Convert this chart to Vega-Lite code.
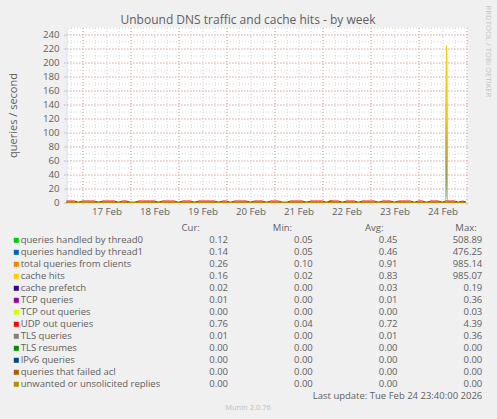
{
  "$schema": "https://vega.github.io/schema/vega-lite/v6.json",
  "width": 401,
  "height": 175,
  "autosize": {"type": "none"},
  "padding": {"left": 66.5, "top": 27.5, "right": 29.5, "bottom": 216.5},
  "background": "#f0f0f0",
  "config": {
    "font": "Open Sans",
    "view": {"fill": "#ffffff", "stroke": null},
    "text": {"font": "Open Sans"}
  },
  "title": {
    "text": "Unbound DNS traffic and cache hits - by week",
    "anchor": "middle",
    "dx": -19,
    "dy": 34,
    "offset": 3.4,
    "baseline": "alphabetic",
    "fontSize": 12,
    "fontWeight": "normal",
    "color": "#606060"
  },
  "datasets": {
    "ts": [
      {"t": "2026-02-16T16:00", "thread0": 0.17, "thread1": 0.16, "total": 0.33, "hits": 0.26, "udp": 2.14},
      {"t": "2026-02-16T18:00", "thread0": 0.15, "thread1": 0.16, "total": 0.31, "hits": 0.24, "udp": 2.14},
      {"t": "2026-02-16T20:00", "thread0": 0.16, "thread1": 0.15, "total": 0.31, "hits": 0.25, "udp": 2.14},
      {"t": "2026-02-16T22:00", "thread0": 0.14, "thread1": 0.15, "total": 0.29, "hits": 0.22, "udp": 0.20},
      {"t": "2026-02-17T00:00", "thread0": 0.13, "thread1": 0.14, "total": 0.27, "hits": 0.21, "udp": 2.14},
      {"t": "2026-02-17T02:00", "thread0": 0.14, "thread1": 0.13, "total": 0.27, "hits": 0.20, "udp": 2.14},
      {"t": "2026-02-17T04:00", "thread0": 0.13, "thread1": 0.14, "total": 0.27, "hits": 0.21, "udp": 2.14},
      {"t": "2026-02-17T06:00", "thread0": 0.16, "thread1": 0.17, "total": 0.33, "hits": 0.26, "udp": 2.14},
      {"t": "2026-02-17T08:00", "thread0": 0.19, "thread1": 0.18, "total": 0.37, "hits": 0.29, "udp": 0.20},
      {"t": "2026-02-17T10:00", "thread0": 0.20, "thread1": 0.19, "total": 0.39, "hits": 0.31, "udp": 2.14},
      {"t": "2026-02-17T12:00", "thread0": 0.21, "thread1": 0.20, "total": 0.41, "hits": 0.33, "udp": 2.14},
      {"t": "2026-02-17T14:00", "thread0": 0.20, "thread1": 0.21, "total": 0.41, "hits": 0.32, "udp": 2.14},
      {"t": "2026-02-17T16:00", "thread0": 0.18, "thread1": 0.19, "total": 0.37, "hits": 0.29, "udp": 2.14},
      {"t": "2026-02-17T18:00", "thread0": 0.17, "thread1": 0.18, "total": 0.35, "hits": 0.28, "udp": 0.10},
      {"t": "2026-02-17T20:00", "thread0": 0.16, "thread1": 0.17, "total": 0.33, "hits": 0.26, "udp": 2.14},
      {"t": "2026-02-17T22:00", "thread0": 0.15, "thread1": 0.15, "total": 0.30, "hits": 0.23, "udp": 2.14},
      {"t": "2026-02-18T00:00", "thread0": 0.14, "thread1": 0.13, "total": 0.27, "hits": 0.21, "udp": 0.20},
      {"t": "2026-02-18T02:00", "thread0": 0.13, "thread1": 0.13, "total": 0.26, "hits": 0.20, "udp": 0.10},
      {"t": "2026-02-18T04:00", "thread0": 0.13, "thread1": 0.14, "total": 0.27, "hits": 0.20, "udp": 2.14},
      {"t": "2026-02-18T06:00", "thread0": 0.16, "thread1": 0.17, "total": 0.33, "hits": 0.26, "udp": 2.14},
      {"t": "2026-02-18T08:00", "thread0": 0.19, "thread1": 0.19, "total": 0.38, "hits": 0.30, "udp": 2.14},
      {"t": "2026-02-18T10:00", "thread0": 0.21, "thread1": 0.21, "total": 0.42, "hits": 0.33, "udp": 2.14},
      {"t": "2026-02-18T12:00", "thread0": 0.20, "thread1": 0.21, "total": 0.41, "hits": 0.32, "udp": 2.14},
      {"t": "2026-02-18T14:00", "thread0": 0.19, "thread1": 0.19, "total": 0.38, "hits": 0.30, "udp": 0.20},
      {"t": "2026-02-18T16:00", "thread0": 0.18, "thread1": 0.18, "total": 0.36, "hits": 0.28, "udp": 2.14},
      {"t": "2026-02-18T18:00", "thread0": 0.17, "thread1": 0.17, "total": 0.34, "hits": 0.27, "udp": 2.14},
      {"t": "2026-02-18T20:00", "thread0": 0.15, "thread1": 0.16, "total": 0.31, "hits": 0.24, "udp": 2.14},
      {"t": "2026-02-18T22:00", "thread0": 0.14, "thread1": 0.14, "total": 0.28, "hits": 0.22, "udp": 2.14},
      {"t": "2026-02-19T00:00", "thread0": 0.13, "thread1": 0.14, "total": 0.27, "hits": 0.21, "udp": 0.10},
      {"t": "2026-02-19T02:00", "thread0": 0.13, "thread1": 0.13, "total": 0.26, "hits": 0.20, "udp": 2.14},
      {"t": "2026-02-19T04:00", "thread0": 0.13, "thread1": 0.13, "total": 0.26, "hits": 0.20, "udp": 2.14},
      {"t": "2026-02-19T06:00", "thread0": 0.16, "thread1": 0.16, "total": 0.32, "hits": 0.25, "udp": 2.14},
      {"t": "2026-02-19T08:00", "thread0": 0.19, "thread1": 0.20, "total": 0.39, "hits": 0.31, "udp": 0.20},
      {"t": "2026-02-19T10:00", "thread0": 0.21, "thread1": 0.20, "total": 0.41, "hits": 0.33, "udp": 2.14},
      {"t": "2026-02-19T12:00", "thread0": 0.20, "thread1": 0.21, "total": 0.41, "hits": 0.32, "udp": 2.14},
      {"t": "2026-02-19T14:00", "thread0": 0.19, "thread1": 0.19, "total": 0.38, "hits": 0.30, "udp": 2.14},
      {"t": "2026-02-19T16:00", "thread0": 0.18, "thread1": 0.17, "total": 0.35, "hits": 0.28, "udp": 2.14},
      {"t": "2026-02-19T18:00", "thread0": 0.17, "thread1": 0.16, "total": 0.33, "hits": 0.26, "udp": 2.14},
      {"t": "2026-02-19T20:00", "thread0": 0.15, "thread1": 0.15, "total": 0.30, "hits": 0.24, "udp": 0.20},
      {"t": "2026-02-19T22:00", "thread0": 0.14, "thread1": 0.14, "total": 0.28, "hits": 0.22, "udp": 2.14},
      {"t": "2026-02-20T00:00", "thread0": 0.14, "thread1": 0.13, "total": 0.27, "hits": 0.21, "udp": 2.14},
      {"t": "2026-02-20T02:00", "thread0": 0.13, "thread1": 0.13, "total": 0.26, "hits": 0.20, "udp": 0.10},
      {"t": "2026-02-20T04:00", "thread0": 0.13, "thread1": 0.13, "total": 0.26, "hits": 0.20, "udp": 2.14},
      {"t": "2026-02-20T06:00", "thread0": 0.16, "thread1": 0.16, "total": 0.32, "hits": 0.25, "udp": 2.14},
      {"t": "2026-02-20T08:00", "thread0": 0.19, "thread1": 0.19, "total": 0.38, "hits": 0.30, "udp": 2.14},
      {"t": "2026-02-20T10:00", "thread0": 0.20, "thread1": 0.21, "total": 0.41, "hits": 0.32, "udp": 2.14},
      {"t": "2026-02-20T12:00", "thread0": 0.20, "thread1": 0.20, "total": 0.40, "hits": 0.32, "udp": 0.20},
      {"t": "2026-02-20T14:00", "thread0": 0.19, "thread1": 0.19, "total": 0.38, "hits": 0.30, "udp": 2.14},
      {"t": "2026-02-20T16:00", "thread0": 0.18, "thread1": 0.17, "total": 0.35, "hits": 0.28, "udp": 2.14},
      {"t": "2026-02-20T18:00", "thread0": 0.17, "thread1": 0.16, "total": 0.33, "hits": 0.26, "udp": 2.14},
      {"t": "2026-02-20T20:00", "thread0": 0.15, "thread1": 0.16, "total": 0.31, "hits": 0.24, "udp": 0.10},
      {"t": "2026-02-20T22:00", "thread0": 0.14, "thread1": 0.14, "total": 0.28, "hits": 0.22, "udp": 2.14},
      {"t": "2026-02-21T00:00", "thread0": 0.14, "thread1": 0.13, "total": 0.27, "hits": 0.21, "udp": 2.14},
      {"t": "2026-02-21T02:00", "thread0": 0.13, "thread1": 0.13, "total": 0.26, "hits": 0.20, "udp": 2.14},
      {"t": "2026-02-21T04:00", "thread0": 0.13, "thread1": 0.13, "total": 0.26, "hits": 0.20, "udp": 0.20},
      {"t": "2026-02-21T06:00", "thread0": 0.16, "thread1": 0.16, "total": 0.32, "hits": 0.25, "udp": 0.10},
      {"t": "2026-02-21T08:00", "thread0": 0.19, "thread1": 0.19, "total": 0.38, "hits": 0.30, "udp": 2.14},
      {"t": "2026-02-21T10:00", "thread0": 0.20, "thread1": 0.21, "total": 0.41, "hits": 0.32, "udp": 2.14},
      {"t": "2026-02-21T12:00", "thread0": 0.20, "thread1": 0.20, "total": 0.40, "hits": 0.32, "udp": 2.14},
      {"t": "2026-02-21T14:00", "thread0": 0.19, "thread1": 0.19, "total": 0.38, "hits": 0.30, "udp": 2.14},
      {"t": "2026-02-21T16:00", "thread0": 0.18, "thread1": 0.17, "total": 0.35, "hits": 0.28, "udp": 0.20},
      {"t": "2026-02-21T18:00", "thread0": 0.17, "thread1": 0.16, "total": 0.33, "hits": 0.26, "udp": 2.14},
      {"t": "2026-02-21T20:00", "thread0": 0.15, "thread1": 0.15, "total": 0.30, "hits": 0.24, "udp": 2.14},
      {"t": "2026-02-21T22:00", "thread0": 0.14, "thread1": 0.14, "total": 0.28, "hits": 0.22, "udp": 2.14},
      {"t": "2026-02-22T00:00", "thread0": 0.14, "thread1": 0.13, "total": 0.27, "hits": 0.21, "udp": 2.14},
      {"t": "2026-02-22T02:00", "thread0": 0.13, "thread1": 0.13, "total": 0.26, "hits": 0.20, "udp": 0.10},
      {"t": "2026-02-22T04:00", "thread0": 1.60, "thread1": 1.50, "total": 3.10, "hits": 2.20, "udp": 2.14},
      {"t": "2026-02-22T06:00", "thread0": 0.16, "thread1": 0.16, "total": 0.32, "hits": 0.25, "udp": 2.14},
      {"t": "2026-02-22T08:00", "thread0": 0.19, "thread1": 0.19, "total": 0.38, "hits": 0.30, "udp": 2.14},
      {"t": "2026-02-22T10:00", "thread0": 0.21, "thread1": 0.20, "total": 0.41, "hits": 0.33, "udp": 0.20},
      {"t": "2026-02-22T12:00", "thread0": 0.20, "thread1": 0.20, "total": 0.40, "hits": 0.32, "udp": 2.14},
      {"t": "2026-02-22T14:00", "thread0": 0.19, "thread1": 0.19, "total": 0.38, "hits": 0.30, "udp": 2.14},
      {"t": "2026-02-22T16:00", "thread0": 0.18, "thread1": 0.17, "total": 0.35, "hits": 0.28, "udp": 2.14},
      {"t": "2026-02-22T18:00", "thread0": 0.17, "thread1": 0.16, "total": 0.33, "hits": 0.26, "udp": 0.10},
      {"t": "2026-02-22T20:00", "thread0": 0.15, "thread1": 0.15, "total": 0.30, "hits": 0.24, "udp": 2.14},
      {"t": "2026-02-22T22:00", "thread0": 0.14, "thread1": 0.14, "total": 0.28, "hits": 0.22, "udp": 2.14},
      {"t": "2026-02-23T00:00", "thread0": 0.14, "thread1": 0.13, "total": 0.27, "hits": 0.21, "udp": 2.14},
      {"t": "2026-02-23T02:00", "thread0": 0.13, "thread1": 0.13, "total": 0.26, "hits": 0.20, "udp": 2.14},
      {"t": "2026-02-23T04:00", "thread0": 0.13, "thread1": 0.13, "total": 0.26, "hits": 0.20, "udp": 0.20},
      {"t": "2026-02-23T06:00", "thread0": 0.16, "thread1": 0.16, "total": 0.32, "hits": 0.25, "udp": 2.14},
      {"t": "2026-02-23T08:00", "thread0": 0.19, "thread1": 0.19, "total": 0.38, "hits": 0.30, "udp": 2.14},
      {"t": "2026-02-23T10:00", "thread0": 0.21, "thread1": 0.20, "total": 0.41, "hits": 0.33, "udp": 2.14},
      {"t": "2026-02-23T12:00", "thread0": 0.20, "thread1": 0.20, "total": 0.40, "hits": 0.32, "udp": 0.10},
      {"t": "2026-02-23T14:00", "thread0": 0.19, "thread1": 0.19, "total": 0.38, "hits": 0.30, "udp": 2.14},
      {"t": "2026-02-23T16:00", "thread0": 0.18, "thread1": 0.17, "total": 0.35, "hits": 0.28, "udp": 2.14},
      {"t": "2026-02-23T18:00", "thread0": 0.17, "thread1": 0.16, "total": 0.33, "hits": 0.26, "udp": 2.14},
      {"t": "2026-02-23T20:00", "thread0": 0.15, "thread1": 0.15, "total": 0.30, "hits": 0.24, "udp": 2.14},
      {"t": "2026-02-23T22:00", "thread0": 0.14, "thread1": 0.14, "total": 0.28, "hits": 0.22, "udp": 0.20},
      {"t": "2026-02-24T00:00", "thread0": 0.14, "thread1": 0.13, "total": 0.27, "hits": 0.21, "udp": 2.14},
      {"t": "2026-02-24T02:00", "thread0": 0.13, "thread1": 0.13, "total": 0.26, "hits": 0.20, "udp": 2.14},
      {"t": "2026-02-24T04:00", "thread0": 0.13, "thread1": 0.13, "total": 0.26, "hits": 0.20, "udp": 0.10},
      {"t": "2026-02-24T06:00", "thread0": 0.16, "thread1": 0.16, "total": 0.32, "hits": 0.25, "udp": 2.14},
      {"t": "2026-02-24T08:00", "thread0": 0.19, "thread1": 0.19, "total": 0.38, "hits": 0.30, "udp": 2.14},
      {"t": "2026-02-24T10:00", "thread0": 0.21, "thread1": 0.20, "total": 0.41, "hits": 0.33, "udp": 2.14},
      {"t": "2026-02-24T12:00", "thread0": 0.20, "thread1": 0.20, "total": 0.40, "hits": 0.32, "udp": 0.20},
      {"t": "2026-02-24T13:30", "thread0": 0.19, "thread1": 0.20, "total": 0.39, "hits": 0.31, "udp": 2.14},
      {"t": "2026-02-24T14:00", "thread0": 115.0, "thread1": 109.0, "total": 224.0, "hits": 223.5, "udp": 2.14},
      {"t": "2026-02-24T14:30", "thread0": 0.20, "thread1": 0.19, "total": 0.39, "hits": 0.31, "udp": 2.14},
      {"t": "2026-02-24T16:00", "thread0": 0.18, "thread1": 0.17, "total": 0.35, "hits": 0.28, "udp": 2.14},
      {"t": "2026-02-24T18:00", "thread0": 0.17, "thread1": 0.16, "total": 0.33, "hits": 0.26, "udp": 2.14},
      {"t": "2026-02-24T20:00", "thread0": 0.15, "thread1": 0.15, "total": 0.30, "hits": 0.24, "udp": 0.20},
      {"t": "2026-02-24T22:00", "thread0": 0.14, "thread1": 0.14, "total": 0.28, "hits": 0.22, "udp": 2.14},
      {"t": "2026-02-24T23:40", "thread0": 0.12, "thread1": 0.14, "total": 0.26, "hits": 0.16, "udp": 0.76}
    ],
    "z1": [
      {"t": "2026-02-16T16:00", "s": "prefetch", "v": 0.03},
      {"t": "2026-02-24T23:40", "s": "prefetch", "v": 0.02},
      {"t": "2026-02-16T16:00", "s": "tcp", "v": 0.01},
      {"t": "2026-02-24T23:40", "s": "tcp", "v": 0.01},
      {"t": "2026-02-16T16:00", "s": "tcpout", "v": 0.0},
      {"t": "2026-02-24T23:40", "s": "tcpout", "v": 0.0}
    ],
    "z2": [
      {"t": "2026-02-16T16:00", "s": "tls", "v": 0.01},
      {"t": "2026-02-24T23:40", "s": "tls", "v": 0.01},
      {"t": "2026-02-16T16:00", "s": "tlsres", "v": 0.0},
      {"t": "2026-02-24T23:40", "s": "tlsres", "v": 0.0},
      {"t": "2026-02-16T16:00", "s": "ipv6", "v": 0.0},
      {"t": "2026-02-24T23:40", "s": "ipv6", "v": 0.0},
      {"t": "2026-02-16T16:00", "s": "acl", "v": 0.0},
      {"t": "2026-02-24T23:40", "s": "acl", "v": 0.0},
      {"t": "2026-02-16T16:00", "s": "unwanted", "v": 0.0},
      {"t": "2026-02-24T23:40", "s": "unwanted", "v": 0.0}
    ],
    "tbl": [
      {"name": "queries handled by thread0", "cur": 0.12, "min": 0.05, "avg": 0.45, "max": 508.89},
      {"name": "queries handled by thread1", "cur": 0.14, "min": 0.05, "avg": 0.46, "max": 476.25},
      {"name": "total queries from clients", "cur": 0.26, "min": 0.10, "avg": 0.91, "max": 985.14},
      {"name": "cache hits", "cur": 0.16, "min": 0.02, "avg": 0.83, "max": 985.07},
      {"name": "cache prefetch", "cur": 0.02, "min": 0.00, "avg": 0.03, "max": 0.19},
      {"name": "TCP queries", "cur": 0.01, "min": 0.00, "avg": 0.01, "max": 0.36},
      {"name": "TCP out queries", "cur": 0.00, "min": 0.00, "avg": 0.00, "max": 0.03},
      {"name": "UDP out queries", "cur": 0.76, "min": 0.04, "avg": 0.72, "max": 4.39},
      {"name": "TLS queries", "cur": 0.01, "min": 0.00, "avg": 0.01, "max": 0.36},
      {"name": "TLS resumes", "cur": 0.00, "min": 0.00, "avg": 0.00, "max": 0.00},
      {"name": "IPv6 queries", "cur": 0.00, "min": 0.00, "avg": 0.00, "max": 0.00},
      {"name": "queries that failed acl", "cur": 0.00, "min": 0.00, "avg": 0.00, "max": 0.00},
      {"name": "unwanted or unsolicited replies", "cur": 0.00, "min": 0.00, "avg": 0.00, "max": 0.00}
    ],
    "hdr": [{"h": "Cur:"}, {"h": "Min:"}, {"h": "Avg:"}, {"h": "Max:"}]
  },
  "resolve": {
    "scale": {"x": "independent", "y": "independent", "color": "independent", "strokeWidth": "independent"},
    "axis": {"x": "independent", "y": "independent"}
  },
  "layer": [
    {
      "data": {"name": "z1"},
      "mark": {"type": "line", "strokeWidth": 1},
      "encoding": {
        "x": {
          "field": "t", "type": "temporal",
          "scale": {"domain": [{"year": 2026, "month": "feb", "date": 16, "hours": 16}, {"year": 2026, "month": "feb", "date": 25, "hours": 0, "minutes": 30}]},
          "axis": {
            "orient": "bottom", "grid": true, "gridColor": "#d4d4d4", "gridDash": [1, 2],
            "values": [
              {"year": 2026, "month": "feb", "date": 16, "hours": 18},
              {"year": 2026, "month": "feb", "date": 17, "hours": 0}, {"year": 2026, "month": "feb", "date": 17, "hours": 6}, {"year": 2026, "month": "feb", "date": 17, "hours": 12}, {"year": 2026, "month": "feb", "date": 17, "hours": 18},
              {"year": 2026, "month": "feb", "date": 18, "hours": 0}, {"year": 2026, "month": "feb", "date": 18, "hours": 6}, {"year": 2026, "month": "feb", "date": 18, "hours": 12}, {"year": 2026, "month": "feb", "date": 18, "hours": 18},
              {"year": 2026, "month": "feb", "date": 19, "hours": 0}, {"year": 2026, "month": "feb", "date": 19, "hours": 6}, {"year": 2026, "month": "feb", "date": 19, "hours": 12}, {"year": 2026, "month": "feb", "date": 19, "hours": 18},
              {"year": 2026, "month": "feb", "date": 20, "hours": 0}, {"year": 2026, "month": "feb", "date": 20, "hours": 6}, {"year": 2026, "month": "feb", "date": 20, "hours": 12}, {"year": 2026, "month": "feb", "date": 20, "hours": 18},
              {"year": 2026, "month": "feb", "date": 21, "hours": 0}, {"year": 2026, "month": "feb", "date": 21, "hours": 6}, {"year": 2026, "month": "feb", "date": 21, "hours": 12}, {"year": 2026, "month": "feb", "date": 21, "hours": 18},
              {"year": 2026, "month": "feb", "date": 22, "hours": 0}, {"year": 2026, "month": "feb", "date": 22, "hours": 6}, {"year": 2026, "month": "feb", "date": 22, "hours": 12}, {"year": 2026, "month": "feb", "date": 22, "hours": 18},
              {"year": 2026, "month": "feb", "date": 23, "hours": 0}, {"year": 2026, "month": "feb", "date": 23, "hours": 6}, {"year": 2026, "month": "feb", "date": 23, "hours": 12}, {"year": 2026, "month": "feb", "date": 23, "hours": 18},
              {"year": 2026, "month": "feb", "date": 24, "hours": 0}, {"year": 2026, "month": "feb", "date": 24, "hours": 6}, {"year": 2026, "month": "feb", "date": 24, "hours": 12}, {"year": 2026, "month": "feb", "date": 24, "hours": 18},
              {"year": 2026, "month": "feb", "date": 25, "hours": 0}
            ],
            "labels": false, "ticks": false, "domain": false, "title": null
          }
        },
        "y": {
          "field": "v", "type": "quantitative",
          "scale": {"domain": [0, 250], "nice": false},
          "axis": {
            "orient": "right", "grid": true, "gridColor": "#d4d4d4", "gridDash": [1, 2],
            "values": [10, 20, 30, 40, 50, 60, 70, 80, 90, 100, 110, 120, 130, 140, 150, 160, 170, 180, 190, 200, 210, 220, 230, 240, 250],
            "labels": false, "ticks": false, "domain": false,
            "title": "RRDTOOL / TOBI OETIKER", "titleAngle": 90, "titleFontSize": 7.7, "titleFontWeight": "normal",
            "titleColor": "#c4c4c4", "titleX": 19.5, "titleY": 23.5, "titleAlign": "center", "titleBaseline": "middle"
          }
        },
        "color": {"field": "s", "type": "nominal", "scale": {"domain": ["prefetch", "tcp", "tcpout"], "range": ["#330099", "#990099", "#CCFF00"]}, "legend": null}
      }
    },
    {
      "data": {"name": "ts"},
      "transform": [{"fold": ["thread0", "thread1", "total", "hits", "udp"], "as": ["s", "v"]}],
      "mark": {"type": "line"},
      "encoding": {
        "x": {
          "field": "t", "type": "temporal",
          "scale": {"domain": [{"year": 2026, "month": "feb", "date": 16, "hours": 16}, {"year": 2026, "month": "feb", "date": 25, "hours": 0, "minutes": 30}]},
          "axis": {
            "orient": "bottom", "grid": true, "gridColor": "#eaa0a0", "gridDash": [1, 2],
            "values": [
              {"year": 2026, "month": "feb", "date": 17}, {"year": 2026, "month": "feb", "date": 18},
              {"year": 2026, "month": "feb", "date": 19}, {"year": 2026, "month": "feb", "date": 20},
              {"year": 2026, "month": "feb", "date": 21}, {"year": 2026, "month": "feb", "date": 22},
              {"year": 2026, "month": "feb", "date": 23}, {"year": 2026, "month": "feb", "date": 24},
              {"year": 2026, "month": "feb", "date": 25}
            ],
            "labelExpr": "date(datum.value) == 25 ? '' : timeFormat(datum.value, '%d %b')",
            "labelOffset": 24, "labelFlush": false, "labelOverlap": false, "labelBound": false,
            "labelFontSize": 9.7, "labelColor": "#606060", "labelPadding": 2,
            "tickSize": 2, "tickColor": "#c8c8c8", "domainColor": "#cfd6f8", "title": null
          }
        },
        "y": {
          "field": "v", "type": "quantitative",
          "scale": {"domain": [0, 250], "nice": false},
          "axis": {
            "orient": "left", "grid": true, "gridColor": "#eaa0a0", "gridDash": [1, 2],
            "values": [0, 20, 40, 60, 80, 100, 120, 140, 160, 180, 200, 220, 240],
            "labelFontSize": 9.7, "labelColor": "#606060", "labelPadding": 4.5,
            "tickSize": 3, "tickColor": "#c8c8c8", "domainColor": "#cfd6f8",
            "title": "queries / second", "titleFontSize": 11, "titleFontWeight": "normal", "titleColor": "#606060", "titlePadding": 24
          }
        },
        "color": {"field": "s", "type": "nominal", "scale": {"domain": ["thread0", "thread1", "total", "hits", "udp"], "range": ["#00CC00", "#0066B3", "#FF8000", "#FFCC00", "#FF0000"]}, "legend": null},
        "strokeWidth": {"field": "s", "type": "nominal", "scale": {"domain": ["thread0", "thread1", "total", "hits", "udp"], "range": [1, 1, 1, 1, 2]}, "legend": null}
      }
    },
    {
      "data": {"name": "z2"},
      "mark": {"type": "line", "strokeWidth": 1},
      "encoding": {
        "x": {
          "field": "t", "type": "temporal",
          "scale": {"domain": [{"year": 2026, "month": "feb", "date": 16, "hours": 16}, {"year": 2026, "month": "feb", "date": 25, "hours": 0, "minutes": 30}]},
          "axis": null
        },
        "y": {"field": "v", "type": "quantitative", "scale": {"domain": [0, 250], "nice": false}, "axis": null},
        "color": {"field": "s", "type": "nominal", "scale": {"domain": ["tls", "tlsres", "ipv6", "acl", "unwanted"], "range": ["#808080", "#008F00", "#00487D", "#B35A00", "#B38F00"]}, "legend": null}
      }
    },
    {
      "data": {"name": "tbl"},
      "mark": {"type": "square", "size": 25, "filled": true, "opacity": 1},
      "encoding": {
        "x": {"datum": "sq", "type": "nominal", "scale": {"type": "point", "domain": ["sq", "lbl"], "range": [-50.2, -45.8], "padding": 0}, "axis": null},
        "y": {
          "field": "name", "type": "nominal",
          "scale": {"type": "point", "padding": 0, "range": [200.8, 380.8], "domain": ["hdr", "queries handled by thread0", "queries handled by thread1", "total queries from clients", "cache hits", "cache prefetch", "TCP queries", "TCP out queries", "UDP out queries", "TLS queries", "TLS resumes", "IPv6 queries", "queries that failed acl", "unwanted or unsolicited replies", "upd", "ftr"]},
          "axis": null
        },
        "color": {
          "field": "name", "type": "nominal",
          "scale": {
            "domain": ["queries handled by thread0", "queries handled by thread1", "total queries from clients", "cache hits", "cache prefetch", "TCP queries", "TCP out queries", "UDP out queries", "TLS queries", "TLS resumes", "IPv6 queries", "queries that failed acl", "unwanted or unsolicited replies"],
            "range": ["#00CC00", "#0066B3", "#FF8000", "#FFCC00", "#330099", "#990099", "#CCFF00", "#FF0000", "#808080", "#008F00", "#00487D", "#B35A00", "#B38F00"]
          },
          "legend": null
        }
      }
    },
    {
      "data": {"name": "tbl"},
      "mark": {"type": "text", "align": "left", "baseline": "middle", "fontSize": 9.5, "color": "#606060"},
      "encoding": {
        "x": {"datum": "lbl", "type": "nominal", "scale": {"type": "point", "domain": ["sq", "lbl"], "range": [-50.2, -45.8], "padding": 0}, "axis": null},
        "y": {
          "field": "name", "type": "nominal",
          "scale": {"type": "point", "padding": 0, "range": [200.8, 380.8], "domain": ["hdr", "queries handled by thread0", "queries handled by thread1", "total queries from clients", "cache hits", "cache prefetch", "TCP queries", "TCP out queries", "UDP out queries", "TLS queries", "TLS resumes", "IPv6 queries", "queries that failed acl", "unwanted or unsolicited replies", "upd", "ftr"]},
          "axis": null
        },
        "text": {"field": "name"}
      }
    },
    {
      "data": {"name": "tbl"},
      "transform": [{"fold": ["cur", "min", "avg", "max"], "as": ["k", "v"]}],
      "mark": {"type": "text", "align": "right", "baseline": "middle", "fontSize": 9.5, "color": "#606060"},
      "encoding": {
        "x": {"field": "k", "type": "nominal", "scale": {"type": "point", "domain": ["cur", "min", "avg", "max"], "range": [161.5, 415.8], "padding": 0}, "axis": null},
        "y": {
          "field": "name", "type": "nominal",
          "scale": {"type": "point", "padding": 0, "range": [200.8, 380.8], "domain": ["hdr", "queries handled by thread0", "queries handled by thread1", "total queries from clients", "cache hits", "cache prefetch", "TCP queries", "TCP out queries", "UDP out queries", "TLS queries", "TLS resumes", "IPv6 queries", "queries that failed acl", "unwanted or unsolicited replies", "upd", "ftr"]},
          "axis": null
        },
        "text": {"field": "v", "type": "quantitative", "format": ".2f"}
      }
    },
    {
      "data": {"name": "hdr"},
      "mark": {"type": "text", "align": "center", "baseline": "middle", "fontSize": 9.5, "color": "#606060"},
      "encoding": {
        "x": {"field": "h", "type": "nominal", "scale": {"type": "point", "domain": ["Cur:", "Min:", "Avg:", "Max:"], "range": [124.2, 399.5], "padding": 0}, "axis": null},
        "y": {
          "datum": "hdr", "type": "nominal",
          "scale": {"type": "point", "padding": 0, "range": [200.8, 380.8], "domain": ["hdr", "queries handled by thread0", "queries handled by thread1", "total queries from clients", "cache hits", "cache prefetch", "TCP queries", "TCP out queries", "UDP out queries", "TLS queries", "TLS resumes", "IPv6 queries", "queries that failed acl", "unwanted or unsolicited replies", "upd", "ftr"]},
          "axis": null
        },
        "text": {"field": "h"}
      }
    },
    {
      "data": {"values": [{"txt": "Last update: Tue Feb 24 23:40:00 2026"}]},
      "mark": {"type": "text", "align": "right", "baseline": "middle", "fontSize": 9.5, "color": "#606060"},
      "encoding": {
        "x": {"datum": "max", "type": "nominal", "scale": {"type": "point", "domain": ["cur", "min", "avg", "max"], "range": [161.5, 415.8], "padding": 0}, "axis": null},
        "y": {
          "datum": "upd", "type": "nominal",
          "scale": {"type": "point", "padding": 0, "range": [200.8, 380.8], "domain": ["hdr", "queries handled by thread0", "queries handled by thread1", "total queries from clients", "cache hits", "cache prefetch", "TCP queries", "TCP out queries", "UDP out queries", "TLS queries", "TLS resumes", "IPv6 queries", "queries that failed acl", "unwanted or unsolicited replies", "upd", "ftr"]},
          "axis": null
        },
        "text": {"field": "txt"}
      }
    },
    {
      "data": {"values": [{"txt": "Munin 2.0.76"}]},
      "mark": {"type": "text", "align": "center", "baseline": "middle", "fontSize": 7.5, "color": "#bdbdbd"},
      "encoding": {
        "x": {"datum": "c", "type": "nominal", "scale": {"type": "point", "domain": ["c"], "range": [181.5, 181.5], "padding": 0}, "axis": null},
        "y": {
          "datum": "ftr", "type": "nominal",
          "scale": {"type": "point", "padding": 0, "range": [200.8, 380.8], "domain": ["hdr", "queries handled by thread0", "queries handled by thread1", "total queries from clients", "cache hits", "cache prefetch", "TCP queries", "TCP out queries", "UDP out queries", "TLS queries", "TLS resumes", "IPv6 queries", "queries that failed acl", "unwanted or unsolicited replies", "upd", "ftr"]},
          "axis": null
        },
        "text": {"field": "txt"}
      }
    }
  ]
}
